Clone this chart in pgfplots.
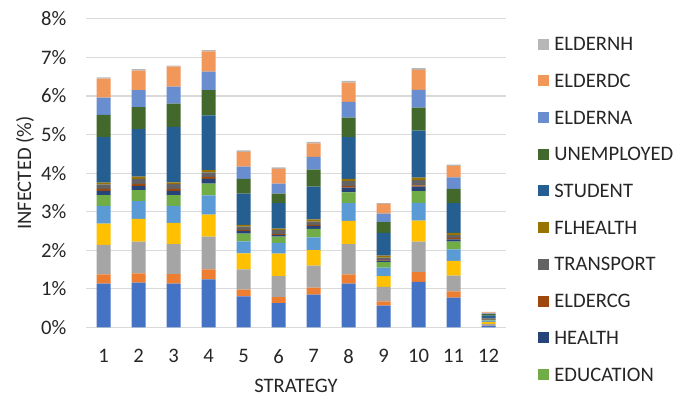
\documentclass[border=0pt]{standalone}
\usepackage{fontspec}
\setmainfont{Carlito}
\usepackage{pgfplots}
\usepackage{pgfplotstable}
\pgfplotsset{compat=1.18}

% Office colour cycle
\definecolor{c1}{HTML}{4472C4}
\definecolor{c2}{HTML}{ED7D31}
\definecolor{c3}{HTML}{A5A5A5}
\definecolor{c4}{HTML}{FFC000}
\definecolor{c5}{HTML}{5B9BD5}
\definecolor{c6}{HTML}{70AD47}
\definecolor{c7}{HTML}{264478}
\definecolor{c8}{HTML}{9E480E}
\definecolor{c9}{HTML}{636363}
\definecolor{c10}{HTML}{997300}
\definecolor{c11}{HTML}{255E91}
\definecolor{c12}{HTML}{43682B}
\definecolor{c13}{HTML}{698ED0}
\definecolor{c14}{HTML}{F1975A}
\definecolor{c15}{HTML}{B7B7B7}
\definecolor{gridgray}{HTML}{D9D9D9}
\definecolor{txt}{HTML}{262626}

% infected share (%) per group, one row per strategy
\pgfplotstableread{
s  c1   c2   c3   c4   c5   c6   c7   c8   c9   c10  c11  c12  c13  c14  c15
1  1.13 0.24 0.77 0.55 0.46 0.28 0.11 0.05 0.12 0.04 1.18 0.58 0.45 0.49 0.03
2  1.16 0.24 0.82 0.59 0.46 0.29 0.11 0.05 0.13 0.06 1.23 0.57 0.44 0.51 0.04
3  1.13 0.25 0.78 0.55 0.44 0.28 0.11 0.05 0.13 0.04 1.44 0.60 0.44 0.52 0.03
4  1.24 0.26 0.85 0.57 0.50 0.31 0.12 0.05 0.12 0.06 1.42 0.65 0.48 0.53 0.03
5  0.80 0.18 0.52 0.42 0.31 0.20 0.07 0.03 0.08 0.05 0.81 0.38 0.32 0.38 0.04
6  0.63 0.15 0.55 0.58 0.28 0.16 0.04 0.03 0.10 0.04 0.66 0.25 0.26 0.38 0.04
7  0.85 0.18 0.57 0.40 0.33 0.22 0.08 0.03 0.08 0.06 0.85 0.44 0.33 0.35 0.04
8  1.13 0.24 0.79 0.60 0.46 0.28 0.12 0.04 0.13 0.06 1.08 0.51 0.41 0.50 0.04
9  0.56 0.11 0.38 0.28 0.22 0.14 0.04 0.02 0.06 0.05 0.59 0.28 0.22 0.25 0.02
10 1.18 0.25 0.79 0.55 0.46 0.30 0.12 0.03 0.14 0.06 1.22 0.60 0.46 0.52 0.04
11 0.77 0.16 0.41 0.38 0.30 0.20 0.06 0.04 0.07 0.06 0.77 0.37 0.30 0.30 0.03
12 0.03 0.01 0.05 0.05 0.03 0.02 0.01 0.01 0.02 0.01 0.06 0.04 0.02 0.03 0.01
}\infected

\begin{document}
\begin{tikzpicture}
\begin{axis}[
  at={(43pt,34.35pt)}, anchor=south west,
  scale only axis, width=210pt, height=154.2pt,
  font=\fontsize{10.3}{12}\selectfont,
  ybar stacked, bar width=7pt,
  xmin=0.5, xmax=12.5, ymin=0, ymax=8,
  xtick={1,...,12}, ytick={0,...,8},
  yticklabel={\pgfmathprintnumber{\tick}\%},
  /pgf/number format/assume math mode=true,
  major tick length=0pt, tick style={draw=none},
  ymajorgrids, grid style={draw=gridgray, line width=0.6pt},
  axis x line*=bottom, axis y line*=left,
  x axis line style={draw=gridgray, line width=0.6pt, -},
  y axis line style={draw=none},
  xticklabel style={inner sep=0pt, anchor=north, yshift=-10.85pt, text=txt},
  yticklabel style={inner sep=0pt, anchor=east, xshift=-9.65pt, text=txt},
  xlabel={STRATEGY}, ylabel={INFECTED (\%)},
  xlabel style={at={(axis description cs:0.5,-0.1903)}, anchor=center, text=txt},
  ylabel style={at={(axis description cs:-0.1452,0.5)}, anchor=center, text=txt},
  legend image code/.code={\fill[#1,draw=none] (0pt,-2.75pt) rectangle (5.5pt,2.75pt);},
  reverse legend,
  legend cell align=left,
  legend style={at={(axis description cs:1.0762,0.9407)}, anchor=north west,
    draw=none, fill=none, inner sep=0pt, row sep=11.75pt, column sep=2.5pt,
    nodes={inner sep=0pt, text height=6.6pt, text depth=0pt, text=txt},
    font=\fontsize{10.3}{12}\selectfont},
]
\addplot[fill=c1, draw=none, forget plot] table[x=s, y=c1] {\infected};
\addplot[fill=c2, draw=none, forget plot] table[x=s, y=c2] {\infected};
\addplot[fill=c3, draw=none, forget plot] table[x=s, y=c3] {\infected};
\addplot[fill=c4, draw=none, forget plot] table[x=s, y=c4] {\infected};
\addplot[fill=c5, draw=none, forget plot] table[x=s, y=c5] {\infected};
\addplot[fill=c6, draw=none] table[x=s, y=c6] {\infected};
\addlegendentry{EDUCATION}
\addplot[fill=c7, draw=none] table[x=s, y=c7] {\infected};
\addlegendentry{HEALTH}
\addplot[fill=c8, draw=none] table[x=s, y=c8] {\infected};
\addlegendentry{ELDERCG}
\addplot[fill=c9, draw=none] table[x=s, y=c9] {\infected};
\addlegendentry{TRANSPORT}
\addplot[fill=c10, draw=none] table[x=s, y=c10] {\infected};
\addlegendentry{FLHEALTH}
\addplot[fill=c11, draw=none] table[x=s, y=c11] {\infected};
\addlegendentry{STUDENT}
\addplot[fill=c12, draw=none] table[x=s, y=c12] {\infected};
\addlegendentry{UNEMPLOYED}
\addplot[fill=c13, draw=none] table[x=s, y=c13] {\infected};
\addlegendentry{ELDERNA}
\addplot[fill=c14, draw=none] table[x=s, y=c14] {\infected};
\addlegendentry{ELDERDC}
\addplot[fill=c15, draw=none] table[x=s, y=c15] {\infected};
\addlegendentry{ELDERNH}
\end{axis}
\pgfresetboundingbox
\useasboundingbox (0,0) rectangle (345pt,198pt);
\end{tikzpicture}
\end{document}
